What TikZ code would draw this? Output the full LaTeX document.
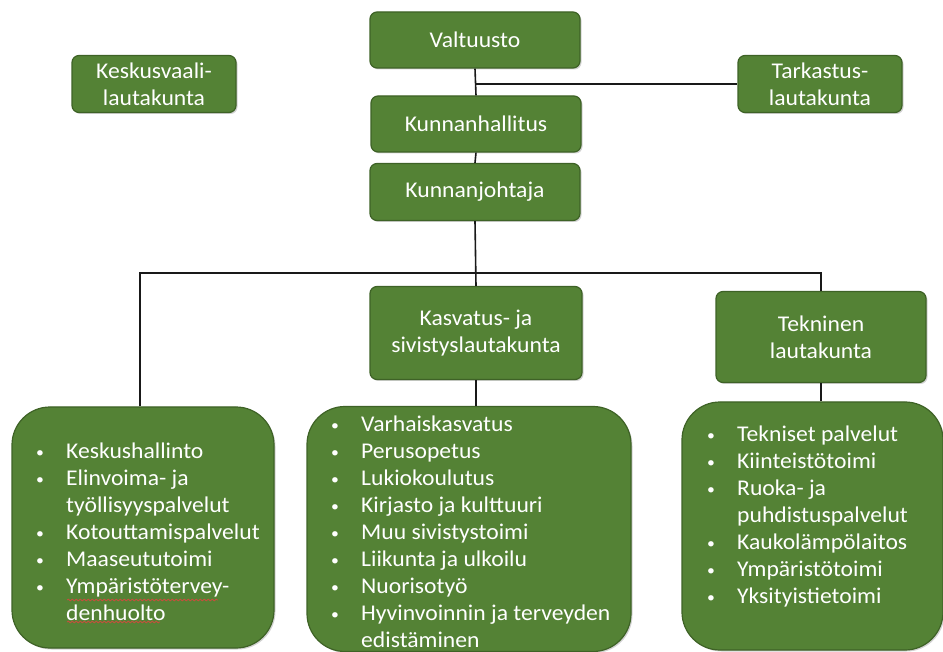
\documentclass[tikz,border=0pt]{standalone}
\usepackage{fontspec}
\setmainfont{Carlito}[FakeStretch=1.05]
\usetikzlibrary{shadows,decorations.pathmorphing}
\definecolor{boxgreen}{RGB}{84,130,53}
\definecolor{boxedge}{RGB}{62,98,38}
\definecolor{wavered}{RGB}{196,80,60}
\tikzset{
  box/.style={rectangle, rounded corners=7pt, fill=boxgreen, draw=boxedge, line width=1.2pt,
    text=white, align=center, font=\fontsize{22.5}{27}\selectfont, inner sep=0pt,
    drop shadow={shadow xshift=1.5pt, shadow yshift=-1.5pt, opacity=0.35}},
  bigbox/.style={box, rounded corners=38pt},
  listtext/.style={text=white, align=left, anchor=north west, inner sep=0pt,
    font=\fontsize{22.5}{27}\selectfont},
  conn/.style={draw=black!90, line width=1.6pt},
  spell/.style={draw=wavered, line width=0.8pt, decorate,
    decoration={snake, amplitude=0.9pt, segment length=4pt}}
}
\newcommand\itm[1]{\makebox[30pt][l]{\raisebox{1pt}{\fontsize{15}{15}\selectfont\textbullet}}#1}
\newcommand\cont[1]{\hspace*{30pt}#1}
\begin{document}
\begin{tikzpicture}[x=1pt,y=-1pt]
\useasboundingbox (0,0) rectangle (943,652);
% top boxes
\node[box, minimum width=210pt, minimum height=56pt] (valt) at (475,40) {Valtuusto};
\node[box, minimum width=164pt, minimum height=57pt] (kesk) at (154,84) {Keskusvaali-\\lautakunta};
\node[box, minimum width=164pt, minimum height=57pt] (tark) at (820,84) {Tarkastus-\\lautakunta};
\node[box, minimum width=210pt, minimum height=56pt] (hall) at (476,124) {Kunnanhallitus};
\node[box, minimum width=210pt, minimum height=57pt] (joht) at (475,192) {Kunnanjohtaja};
\node[box, minimum width=212pt, minimum height=93pt] (kasv) at (476,333) {Kasvatus- ja\\sivistyslautakunta};
\node[box, minimum width=210pt, minimum height=91pt] (tekn) at (821,337) {Tekninen\\lautakunta};
% big boxes
\node[bigbox, minimum width=262pt, minimum height=241pt] (left) at (143,527.5) {};
\node[bigbox, minimum width=324pt, minimum height=245pt] (mid) at (469,529) {};
\node[bigbox, minimum width=261pt, minimum height=248pt] (right) at (812.5,526) {};
% lists
\node[listtext] (leftlist) at (36,439) {\strut\itm{Keskushallinto}\\\itm{Elinvoima- ja}\\\cont{työllisyyspalvelut}\\\itm{Kotouttamispalvelut}\\\itm{Maaseututoimi}\\\itm{Ympäristötervey-}\\\cont{denhuolto}};
\node[listtext] (midlist) at (331,412) {\strut\itm{Varhaiskasvatus}\\\itm{Perusopetus}\\\itm{Lukiokoulutus}\\\itm{Kirjasto ja kulttuuri}\\\itm{Muu sivistystoimi}\\\itm{Liikunta ja ulkoilu}\\\itm{Nuorisotyö}\\\itm{Hyvinvoinnin ja terveyden}\\\cont{edistäminen}};
\node[listtext] (rightlist) at (707,422) {\strut\itm{Tekniset palvelut}\\\itm{Kiinteistötoimi}\\\itm{Ruoka- ja}\\\cont{puhdistuspalvelut}\\\itm{Kaukolämpölaitos}\\\itm{Ympäristötoimi}\\\itm{Yksityistietoimi}};
% spell-check underlines
\draw[spell] (67,600) -- (218,600);
\draw[spell] (67,622) -- (160,622);
% connectors
\draw[conn] (valt.south) -- (hall.north);
\draw[conn] (valt.south |- tark.west) -- (tark.west);
\draw[conn] (hall.south) -- (joht.north);
\draw[conn] (joht.south) -- (kasv.north);
\coordinate (busL) at (140,273);
\coordinate (busR) at (821,273);
\draw[conn] (left.north -| busL) -- (busL) -- (busR) -- (tekn.north);
\draw[conn] (kasv.south) -- (kasv.south |- mid.north);
\draw[conn] (tekn.south) -- (tekn.south |- right.north);
\end{tikzpicture}
\end{document}
